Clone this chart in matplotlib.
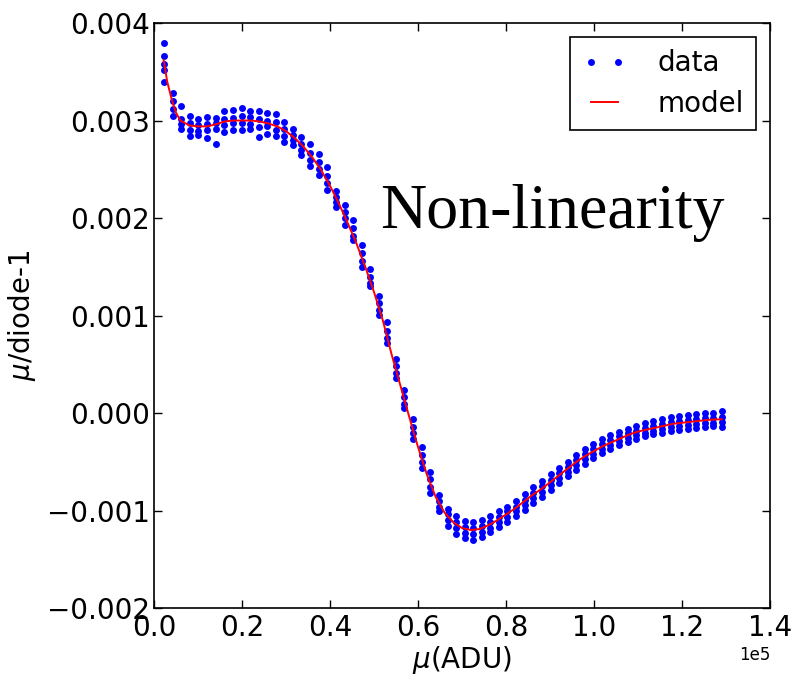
import numpy as np
import matplotlib
matplotlib.use("Agg")
import matplotlib.pyplot as plt

# measured signal level, units of 1e5 ADU (one entry per flat-field pair)
col_x = [0.023, 0.043, 0.062, 0.082, 0.101, 0.121, 0.140, 0.160, 0.179, 0.199,
         0.218, 0.238, 0.257, 0.277, 0.296, 0.316, 0.335, 0.355, 0.374, 0.394,
         0.413, 0.433, 0.452, 0.472, 0.491, 0.511, 0.530, 0.550, 0.569, 0.589,
         0.608, 0.628, 0.647, 0.667, 0.686, 0.706, 0.725, 0.745, 0.764, 0.784,
         0.803, 0.823, 0.842, 0.862, 0.881, 0.901, 0.920, 0.940, 0.959, 0.979,
         0.998, 1.018, 1.037, 1.057, 1.076, 1.096, 1.115, 1.135, 1.154, 1.174,
         1.193, 1.213, 1.232, 1.252, 1.271, 1.291]

# mu/diode - 1 for every exposure at that level, units of 1e-3
col_y = [
    [3.80, 3.66, 3.58, 3.52, 3.40],
    [3.28, 3.20, 3.12, 3.05],
    [3.15, 3.02, 2.96, 2.91],
    [3.05, 2.97, 2.90, 2.84],
    [3.02, 2.95, 2.89, 2.85],
    [3.04, 2.96, 2.90, 2.82],
    [3.03, 2.97, 2.91, 2.76],
    [3.10, 3.02, 2.95, 2.88],
    [3.11, 3.03, 2.97, 2.90],
    [3.13, 3.05, 2.97, 2.90],
    [3.10, 3.04, 2.96, 2.91],
    [3.10, 3.02, 2.93, 2.83],
    [3.08, 3.00, 2.94, 2.86],
    [3.07, 2.98, 2.90, 2.84],
    [2.98, 2.91, 2.84, 2.78],
    [2.91, 2.85, 2.80, 2.75],
    [2.83, 2.76, 2.70, 2.65],
    [2.76, 2.67, 2.60, 2.53],
    [2.66, 2.57, 2.50, 2.44],
    [2.52, 2.43, 2.36, 2.29],
    [2.28, 2.22, 2.16, 2.11],
    [2.13, 2.06, 2.00, 1.93],
    [1.98, 1.90, 1.82, 1.77],
    [1.72, 1.64, 1.56, 1.50],
    [1.48, 1.40, 1.33, 1.30],
    [1.20, 1.13, 1.06, 1.01],
    [0.93, 0.84, 0.77, 0.72],
    [0.55, 0.48, 0.41, 0.36],
    [0.24, 0.16, 0.09, 0.05],
    [-0.06, -0.14, -0.21, -0.27],
    [-0.35, -0.43, -0.50, -0.56],
    [-0.60, -0.68, -0.76, -0.82],
    [-0.84, -0.90, -0.96, -1.01],
    [-0.98, -1.04, -1.10, -1.16],
    [-1.06, -1.12, -1.18, -1.24],
    [-1.11, -1.17, -1.23, -1.28],
    [-1.12, -1.18, -1.24, -1.30],
    [-1.10, -1.16, -1.22, -1.27],
    [-1.06, -1.12, -1.18, -1.22],
    [-1.01, -1.07, -1.12, -1.17],
    [-0.96, -1.01, -1.07, -1.12],
    [-0.90, -0.96, -1.01, -1.06],
    [-0.83, -0.89, -0.94, -0.99],
    [-0.76, -0.82, -0.87, -0.92],
    [-0.70, -0.75, -0.81, -0.86],
    [-0.63, -0.69, -0.74, -0.79],
    [-0.56, -0.62, -0.67, -0.72],
    [-0.50, -0.55, -0.60, -0.65],
    [-0.43, -0.48, -0.53, -0.58],
    [-0.37, -0.42, -0.47, -0.52],
    [-0.32, -0.37, -0.42, -0.46],
    [-0.27, -0.32, -0.37, -0.41],
    [-0.23, -0.28, -0.33, -0.37],
    [-0.19, -0.24, -0.29, -0.33],
    [-0.16, -0.21, -0.26, -0.30],
    [-0.13, -0.18, -0.23, -0.27],
    [-0.10, -0.15, -0.20, -0.24],
    [-0.08, -0.13, -0.18, -0.22],
    [-0.06, -0.11, -0.16, -0.20],
    [-0.04, -0.09, -0.14, -0.18],
    [-0.03, -0.08, -0.13, -0.17],
    [-0.02, -0.07, -0.12, -0.16],
    [-0.01, -0.06, -0.11, -0.15],
    [0.00, -0.05, -0.10, -0.14],
    [0.00, -0.05, -0.10, -0.13],
    [0.02, -0.04, -0.09, -0.14],
]

# fitted non-linearity model, same units
model_x = [0.022, 0.03, 0.04, 0.05, 0.06, 0.08, 0.10, 0.12, 0.14, 0.16, 0.18,
           0.20, 0.22, 0.24, 0.26, 0.28, 0.30, 0.32, 0.34, 0.36, 0.38, 0.40,
           0.42, 0.44, 0.46, 0.48, 0.50, 0.52, 0.54, 0.56, 0.58, 0.60, 0.62,
           0.64, 0.66, 0.68, 0.70, 0.72, 0.74, 0.76, 0.78, 0.80, 0.82, 0.84,
           0.86, 0.88, 0.90, 0.92, 0.94, 0.96, 0.98, 1.00, 1.02, 1.04, 1.06,
           1.08, 1.10, 1.12, 1.14, 1.16, 1.18, 1.20, 1.22, 1.24, 1.26, 1.28,
           1.29]
model_y = [3.62, 3.40, 3.22, 3.08, 3.00, 2.95, 2.94, 2.94, 2.96, 2.99, 3.00,
           3.00, 3.00, 2.99, 2.97, 2.94, 2.89, 2.82, 2.73, 2.62, 2.49, 2.33,
           2.15, 1.95, 1.74, 1.50, 1.24, 0.95, 0.60, 0.28, -0.04, -0.35, -0.63,
           -0.86, -1.02, -1.12, -1.18, -1.20, -1.19, -1.15, -1.10, -1.04, -0.98,
           -0.91, -0.84, -0.78, -0.71, -0.64, -0.57, -0.50, -0.44, -0.39, -0.34,
           -0.30, -0.26, -0.22, -0.19, -0.17, -0.15, -0.13, -0.11, -0.10, -0.09,
           -0.08, -0.07, -0.065, -0.065]


def main():
    plt.rcParams["font.family"] = ["DejaVu Sans"]
    plt.rcParams["axes.formatter.use_mathtext"] = False

    data_x, data_y = [], []
    for xc, ys in zip(col_x, col_y):
        data_x += [xc] * len(ys)
        data_y += ys
    data_x = np.array(data_x) * 1e5
    data_y = np.array(data_y) * 1e-3

    fig = plt.figure(figsize=(7.95, 6.77), dpi=100)
    ax = fig.add_axes([0.1937, 0.1019, 0.775, 0.8641])

    ax.plot(data_x, data_y, "o", color="#0000ff", ms=5, mew=0, label="data")
    ax.plot(np.array(model_x) * 1e5, np.array(model_y) * 1e-3, "-",
            color="#ff0000", lw=1.4, label="model")

    ax.set_xlim(0, 1.4e5)
    ax.set_ylim(-0.002, 0.004)
    ax.set_xticks(np.arange(0, 1.41e5, 0.2e5))
    ax.set_yticks(np.arange(-0.002, 0.0041, 0.001))
    ax.ticklabel_format(axis="x", style="sci", scilimits=(0, 0))
    ax.xaxis.get_offset_text().set_fontsize(12)

    ax.tick_params(direction="in", top=True, right=True, length=6, width=1,
                   labelsize=20)
    ax.tick_params(axis="y", pad=3)
    ax.tick_params(axis="x", pad=4)
    for sp in ax.spines.values():
        sp.set_linewidth(1.2)

    ax.set_xlabel(r"$\mu$(ADU)", fontsize=20, labelpad=2)
    ax.set_ylabel(r"$\mu$/diode-1", fontsize=20, labelpad=6)

    leg = ax.legend(loc="upper right", numpoints=2, fontsize=20, fancybox=False,
                    framealpha=1, edgecolor="black", handlelength=1.6,
                    handletextpad=1.1, borderpad=0.45, labelspacing=0.45)
    leg.get_frame().set_linewidth(1.2)

    ax.text(0.367, 0.65, "Non-linearity", transform=ax.transAxes,
            fontsize=46, family="Liberation Serif", va="baseline")

    fig.savefig("out.png", dpi=100)


if __name__ == "__main__":
    main()
